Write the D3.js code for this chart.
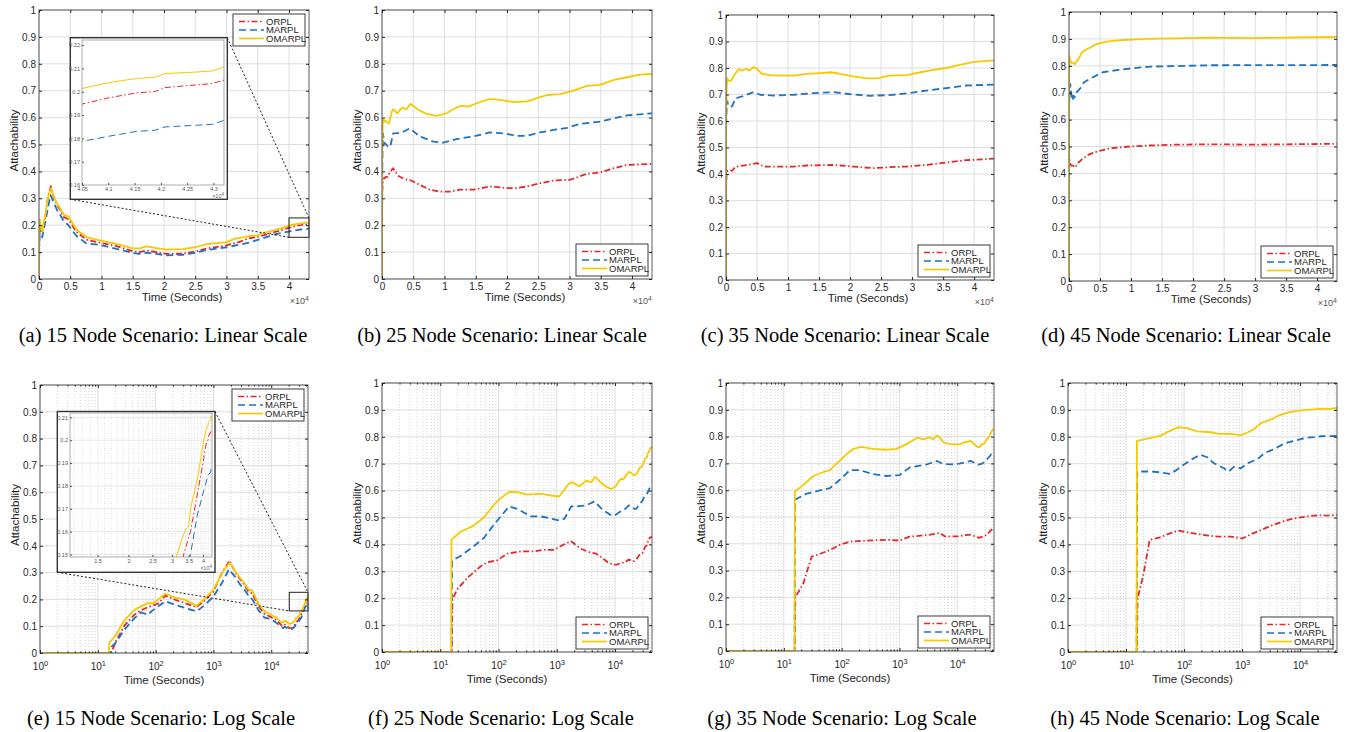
<!DOCTYPE html>
<html><head><meta charset="utf-8">
<script src="https://cdn.jsdelivr.net/npm/d3@7"></script>
<style>body{margin:0;background:#fff;} svg{display:block}</style>
</head><body>
<svg id="chart" width="1353" height="732"></svg>
<script>
// ---------------- DATA ----------------
const seriesNames = ["ORPL", "MARPL", "OMARPL"];
const yTicks = [0,0.1,0.2,0.3,0.4,0.5,0.6,0.7,0.8,0.9,1];
const yTickLabels = ["0","0.1","0.2","0.3","0.4","0.5","0.6","0.7","0.8","0.9","1"];
const linXTicks = [0,5000,10000,15000,20000,25000,30000,35000,40000];
const linXTickLabels = ["0","0.5","1","1.5","2","2.5","3","3.5","4"];
const logXTicks = [1,10,100,1000,10000];
const logXTickExps = ["0","1","2","3","4"];
const timeMax = 43200;

// time [s], attachability
const orpl15 = [[1,0],[16.9,0],[20.6,0.043],[28.8,0.102],[43,0.143],[56,0.159],[73,0.171],[110,0.184],[147,0.214],[215,0.199],[510,0.171],[720,0.199],[1000,0.23],[1400,0.298],[1900,0.345],[2400,0.3],[2900,0.275],[3350,0.258],[4000,0.23],[4700,0.222],[6000,0.175],[7600,0.146],[9730,0.135],[12400,0.122],[15000,0.103],[16100,0.1],[17200,0.106],[18800,0.1],[20400,0.093],[23000,0.094],[25200,0.103],[26800,0.113],[30000,0.125],[32100,0.138],[33400,0.15],[35600,0.16],[37900,0.176],[40300,0.192],[40500,0.1947],[41030,0.1975],[41540,0.1995],[41890,0.2001],[42080,0.2018],[42970,0.2035],[43200,0.205]];
const marpl15 = [[1,0],[16.9,0],[17.5,0.025],[20.6,0.04],[28.8,0.087],[43,0.13],[56,0.152],[73,0.143],[90,0.16],[147,0.193],[215,0.18],[510,0.155],[720,0.18],[1000,0.211],[1400,0.261],[1850,0.312],[2400,0.283],[2900,0.255],[3350,0.24],[4000,0.215],[4700,0.2],[6000,0.16],[7600,0.132],[9730,0.127],[12400,0.112],[15000,0.097],[16100,0.093],[17200,0.098],[18800,0.093],[20400,0.088],[23000,0.09],[25200,0.098],[26800,0.108],[30000,0.118],[32100,0.128],[33700,0.136],[35600,0.15],[37900,0.167],[40300,0.178],[40500,0.1787],[41030,0.181],[41540,0.183],[41890,0.1835],[42080,0.1849],[42970,0.186],[43200,0.1877]];
const omarpl15 = [[1,0],[15.5,0],[15.8,0.037],[20.6,0.068],[28.8,0.122],[43,0.161],[56,0.174],[73,0.186],[90,0.186],[110,0.199],[147,0.221],[215,0.207],[320,0.199],[510,0.176],[720,0.205],[1000,0.236],[1400,0.298],[1900,0.337],[2400,0.304],[2900,0.28],[3350,0.264],[4000,0.238],[4700,0.233],[6000,0.183],[7600,0.156],[9730,0.144],[12400,0.131],[15000,0.114],[16100,0.114],[17200,0.121],[18800,0.115],[20400,0.109],[23000,0.111],[25200,0.119],[26800,0.13],[30000,0.137],[31400,0.15],[33000,0.157],[34000,0.161],[35000,0.162],[35600,0.17],[37900,0.1826],[40300,0.2],[40500,0.2014],[41030,0.204],[41540,0.2057],[41890,0.2062],[42080,0.2078],[42620,0.2084],[42970,0.2089],[43200,0.2106]];

const orpl25 = [[1,0],[15.8,0],[16.2,0.195],[19.4,0.232],[29,0.275],[49,0.318],[64,0.333],[96,0.341],[142,0.366],[242,0.374],[410,0.374],[610,0.38],[920,0.38],[1200,0.395],[1760,0.412],[2570,0.384],[3640,0.371],[4700,0.366],[6040,0.35],[7650,0.332],[9250,0.325],[10900,0.325],[12500,0.332],[14600,0.332],[17300,0.344],[19900,0.338],[21500,0.338],[23200,0.344],[25300,0.356],[27400,0.366],[30100,0.369],[32800,0.391],[34900,0.396],[37100,0.412],[39200,0.424],[43200,0.428]];
const marpl25 = [[1,0],[15.6,0],[16,0.341],[22,0.356],[37.6,0.393],[56,0.424],[84,0.474],[109,0.504],[152,0.541],[211,0.532],[360,0.504],[535,0.504],[800,0.496],[1100,0.489],[1350,0.495],[1770,0.541],[2400,0.542],[3200,0.545],[4440,0.56],[6040,0.53],[8200,0.511],[9800,0.507],[11900,0.52],[14600,0.53],[17300,0.545],[19900,0.54],[21500,0.532],[23200,0.532],[25300,0.545],[27400,0.554],[29600,0.562],[31700,0.577],[34900,0.585],[37100,0.597],[39200,0.608],[43200,0.616]];
const omarpl25 = [[1,0],[15.4,0],[15.6,0.418],[22,0.446],[37.6,0.47],[56,0.5],[84,0.548],[109,0.572],[152,0.595],[211,0.594],[316,0.585],[535,0.589],[800,0.581],[1100,0.578],[1560,0.622],[1770,0.631],[2030,0.626],[2470,0.616],[3200,0.637],[3950,0.631],[4500,0.651],[4970,0.644],[5780,0.629],[7100,0.614],[8700,0.606],[10300,0.616],[11700,0.635],[12700,0.644],[13800,0.641],[15700,0.658],[17300,0.67],[18900,0.666],[21000,0.658],[23200,0.66],[25300,0.676],[26400,0.684],[28500,0.687],[30600,0.7],[32800,0.718],[34900,0.722],[37100,0.74],[39200,0.75],[41300,0.76],[43200,0.762]];

const orpl35 = [[1,0],[15.4,0],[15.8,0.2],[21.8,0.253],[30.3,0.352],[42,0.362],[63,0.377],[93,0.396],[139,0.408],[270,0.412],[590,0.415],[1000,0.412],[1490,0.427],[1770,0.428],[3380,0.434],[4980,0.441],[6060,0.428],[10900,0.428],[13000,0.432],[17300,0.434],[20500,0.428],[23700,0.422],[26400,0.426],[29100,0.428],[32300,0.434],[35500,0.443],[38700,0.452],[43200,0.458]];
const marpl35 = [[1,0],[15.4,0],[15.6,0.565],[24.8,0.587],[42,0.599],[63,0.608],[93,0.639],[139,0.675],[206,0.675],[350,0.66],[590,0.653],[1000,0.656],[1500,0.685],[2840,0.695],[4450,0.709],[5520,0.699],[7660,0.696],[10900,0.699],[14100,0.705],[17300,0.709],[20500,0.7],[23200,0.695],[26400,0.698],[29100,0.704],[32300,0.715],[35500,0.724],[38700,0.734],[43200,0.737]];
const omarpl35 = [[1,0],[15.3,0],[15.5,0.595],[21.8,0.62],[32.5,0.653],[48.5,0.668],[63,0.675],[93,0.71],[122,0.735],[159,0.754],[220,0.762],[350,0.754],[590,0.751],[890,0.754],[1320,0.772],[2040,0.796],[2570,0.79],[3270,0.797],[3800,0.79],[4450,0.804],[4980,0.797],[5790,0.778],[7130,0.773],[8740,0.771],[10900,0.771],[13000,0.778],[15200,0.781],[17000,0.784],[18400,0.778],[20500,0.768],[22700,0.761],[24300,0.761],[26400,0.771],[29100,0.773],[31200,0.783],[33400,0.793],[35500,0.8],[37700,0.812],[39800,0.822],[43200,0.829]];

const orpl45 = [[1,0],[15.4,0],[15.8,0.199],[19.6,0.28],[25.6,0.417],[38.4,0.426],[57,0.441],[80,0.451],[128,0.443],[218,0.435],[372,0.429],[640,0.429],[1010,0.422],[1420,0.438],[2120,0.453],[3170,0.47],[4460,0.481],[6620,0.493],[9310,0.499],[13100,0.504],[17400,0.507],[22800,0.508],[30000,0.507],[43200,0.51]];
const marpl45 = [[1,0],[15.2,0],[15.6,0.671],[25.6,0.671],[38.4,0.668],[57,0.662],[75,0.677],[98,0.696],[146,0.72],[190,0.733],[250,0.724],[325,0.702],[485,0.683],[590,0.671],[725,0.689],[950,0.683],[1240,0.702],[1850,0.717],[2420,0.739],[3630,0.755],[5430,0.776],[7690,0.784],[9840,0.79],[13100,0.797],[17400,0.799],[22800,0.802],[43200,0.803]];
const omarpl45 = [[1,0],[15.2,0],[15.4,0.785],[25.6,0.795],[38.4,0.803],[57,0.822],[80,0.836],[112,0.832],[167,0.82],[285,0.817],[398,0.811],[640,0.811],[950,0.806],[1240,0.816],[1620,0.829],[2120,0.851],[2780,0.861],[3390,0.867],[4160,0.878],[5000,0.884],[6620,0.892],[8770,0.896],[10900,0.898],[14100,0.901],[17400,0.902],[22800,0.905],[30000,0.903],[36700,0.906],[43200,0.907]];

// zoom insets (15 node)
const insetLinXDomain = [40500, 43200];
const insetLinYDomain = [0.16, 0.2222];
const insetLinXTicks = [40500,41000,41500,42000,42500,43000];
const insetLinXTickLabels = ["4.05","4.1","4.15","4.2","4.25","4.3"];
const insetLinYTicks = [0.16,0.17,0.18,0.19,0.2,0.21,0.22];
const insetLinYTickLabels = ["0.16","0.17","0.18","0.19","0.2","0.21","0.22"];
const insetLogXDomain = [11600, 43500];
const insetLogYDomain = [0.1489, 0.2119];
const insetLogXTicks = [15000,20000,25000,30000,35000,40000];
const insetLogXTickLabels = ["1.5","2","2.5","3","3.5","4"];
const insetLogYTicks = [0.15,0.16,0.17,0.18,0.19,0.2,0.21];
const insetLogYTickLabels = ["0.15","0.16","0.17","0.18","0.19","0.2","0.21"];
const zoomRectLin = [40000, 43200, 0.155, 0.227];
const zoomRectLog = [20500, 43200, 0.157, 0.2265];

const captions = ["(a) 15 Node Scenario: Linear Scale","(b) 25 Node Scenario: Linear Scale","(c) 35 Node Scenario: Linear Scale","(d) 45 Node Scenario: Linear Scale","(e) 15 Node Scenario: Log Scale","(f) 25 Node Scenario: Log Scale","(g) 35 Node Scenario: Log Scale","(h) 45 Node Scenario: Log Scale"];

// ---------------- STYLE / LAYOUT ----------------
const scenarios = {
  "15": [orpl15, marpl15, omarpl15],
  "25": [orpl25, marpl25, omarpl25],
  "35": [orpl35, marpl35, omarpl35],
  "45": [orpl45, marpl45, omarpl45]
};
const colors = ["#e8262a", "#1f72c0", "#f7c900"];
const dashes = ["6,2.5,1.5,2.5", "7,4", null];
const SANS = "'Liberation Sans', Arial, Helvetica, sans-serif";
const SERIF = "'Liberation Serif', 'Times New Roman', serif";
const AX = "#262626";

const panels = [
  {sc:"15", type:"lin", box:[39,10,309,279], leg:"tr", cx:163, cy:342, inset:"lin"},
  {sc:"25", type:"lin", box:[382,10,652,279], leg:"br", cx:502, cy:342},
  {sc:"35", type:"lin", box:[726,15,994,280], leg:"br", cx:845, cy:342},
  {sc:"45", type:"lin", box:[1069,12,1337,281], leg:"br", cx:1186, cy:342},
  {sc:"15", type:"log", box:[40,385,308,653], leg:"tr", cx:161, cy:725, inset:"log"},
  {sc:"25", type:"log", box:[382,383,652,652], leg:"br", cx:501, cy:725},
  {sc:"35", type:"log", box:[726,383,994,651], leg:"br", cx:842, cy:725},
  {sc:"45", type:"log", box:[1068,383,1337,652], leg:"br", cx:1185, cy:725}
];

const svg = d3.select("#chart");
svg.append("rect").attr("width",1353).attr("height",732).attr("fill","#fff");
let clipId = 0;

function logMinor(domain) {
  const out = [];
  for (let d = 0; d <= 5; d++) for (let k = 2; k <= 9; k++) {
    const v = k * Math.pow(10, d);
    if (v > domain[0] && v < domain[1]) out.push(v);
  }
  return out;
}

function styleAxis(sel, size) {
  sel.select(".domain").remove();
  sel.attr("font-family", SANS).attr("font-size", size).style("color", AX);
}

function drawLines(g, data, x, y, clip, w) {
  const line = d3.line().x(d => x(d[0])).y(d => y(d[1]));
  data.forEach((s, i) => {
    g.append("path").attr("d", line(s)).attr("fill","none")
      .attr("stroke", colors[i]).attr("stroke-width", w)
      .attr("stroke-dasharray", dashes[i]).attr("stroke-linejoin","round")
      .attr("clip-path", `url(#${clip})`);
  });
}

function makeClip(l,t,r,b) {
  const id = "clip" + (clipId++);
  svg.append("clipPath").attr("id", id).append("rect")
    .attr("x", l).attr("y", t).attr("width", r-l).attr("height", b-t);
  return id;
}

function drawLegend(g, box, pos) {
  const [l,t,r,b] = box, w = 72, h = 32;
  const lx = r - 4 - w, ly = pos === "tr" ? t + 4 : b - 3 - h;
  g.append("rect").attr("x", lx).attr("y", ly).attr("width", w).attr("height", h)
    .attr("fill","#fff").attr("stroke", AX).attr("stroke-width", 0.9);
  seriesNames.forEach((n, i) => {
    const yy = ly + 7.5 + i * 8.5;
    g.append("line").attr("x1", lx+6).attr("x2", lx+31).attr("y1", yy).attr("y2", yy)
      .attr("stroke", colors[i]).attr("stroke-width", 1.7).attr("stroke-dasharray", dashes[i]);
    g.append("text").attr("x", lx+33).attr("y", yy+3.3).text(n)
      .attr("font-family", SANS).attr("font-size", 9.5).attr("fill", AX);
  });
}

function drawPanel(p, idx) {
  const [l,t,r,b] = p.box;
  const g = svg.append("g");
  const x = p.type === "lin" ? d3.scaleLinear().domain([0, timeMax]).range([l, r])
                             : d3.scaleLog().domain([1, timeMax]).range([l, r]);
  const y = d3.scaleLinear().domain([0, 1]).range([b, t]);
  const xt = p.type === "lin" ? linXTicks : logXTicks;

  // grid
  const grid = g.append("g").attr("stroke", "#dedede").attr("stroke-width", 1);
  if (p.type === "log") {
    logMinor([1, timeMax]).forEach(v => grid.append("line")
      .attr("x1", x(v)).attr("x2", x(v)).attr("y1", t).attr("y2", b)
      .attr("stroke", "#c8c8c8").attr("stroke-dasharray", "1,2").attr("stroke-width", 0.8));
  }
  yTicks.forEach(v => grid.append("line").attr("x1", l).attr("x2", r).attr("y1", y(v)).attr("y2", y(v)));
  xt.forEach(v => grid.append("line").attr("x1", x(v)).attr("x2", x(v)).attr("y1", t).attr("y2", b));

  const clip = makeClip(l, t, r, b);
  drawLines(g, scenarios[p.sc], x, y, clip, 1.8);

  // zoom inset
  if (p.inset) drawInset(g, p.inset, x, y, scenarios[p.sc]);

  // box
  g.append("rect").attr("x", l).attr("y", t).attr("width", r-l).attr("height", b-t)
    .attr("fill","none").attr("stroke", "#4a4a4a").attr("stroke-width", 0.9);

  // axes
  const fmtX = p.type === "lin" ? ((d,i) => linXTickLabels[i]) : (() => "");
  const gx = g.append("g").attr("transform", `translate(0,${b})`)
    .call(d3.axisBottom(x).tickValues(xt).tickSizeInner(-3).tickSizeOuter(0)
      .tickPadding(p.type === "lin" ? 3.5 : 9.5).tickFormat(fmtX));
  styleAxis(gx, 10);
  if (p.type === "log") {
    gx.selectAll(".tick text").each(function(d, i) {
      const s = d3.select(this);
      s.append("tspan").text("10");
      s.append("tspan").attr("dy", "-0.5em").attr("font-size", 7.5).text(logXTickExps[i]);
    });
    const mn = g.append("g").attr("transform", `translate(0,${b})`)
      .call(d3.axisBottom(x).tickValues(logMinor([1,timeMax])).tickSizeInner(-1.6).tickSizeOuter(0).tickFormat(""));
    styleAxis(mn, 9);
    const mt = g.append("g").attr("transform", `translate(0,${t})`)
      .call(d3.axisTop(x).tickValues(logMinor([1,timeMax])).tickSizeInner(-1.6).tickSizeOuter(0).tickFormat(""));
    styleAxis(mt, 9);
  }
  const gt = g.append("g").attr("transform", `translate(0,${t})`)
    .call(d3.axisTop(x).tickValues(xt).tickSizeInner(-3).tickSizeOuter(0).tickFormat(""));
  styleAxis(gt, 10);
  const gy = g.append("g").attr("transform", `translate(${l},0)`)
    .call(d3.axisLeft(y).tickValues(yTicks).tickSizeInner(-3).tickSizeOuter(0).tickPadding(3)
      .tickFormat((d,i) => yTickLabels[i]));
  styleAxis(gy, 10);
  const gr = g.append("g").attr("transform", `translate(${r},0)`)
    .call(d3.axisRight(y).tickValues(yTicks).tickSizeInner(-3).tickSizeOuter(0).tickFormat(""));
  styleAxis(gr, 10);

  if (p.type === "lin") {
    const ex = g.append("text").attr("x", r).attr("y", b + 25).attr("text-anchor", "end")
      .attr("font-family", SANS).attr("font-size", 9).attr("fill", "#555");
    ex.append("tspan").text("×10");
    ex.append("tspan").attr("dy", "-0.5em").attr("font-size", 7).text("4");
  }

  // axis labels
  const xOff = p.type === "lin" ? 8 : -10;
  g.append("text").attr("x", (l + r) / 2 + xOff).attr("y", p.type === "lin" ? b + 22 : b + 31)
    .attr("text-anchor", "middle").attr("font-family", SANS).attr("font-size", 11.5)
    .attr("fill", AX).text("Time (Seconds)");
  g.append("text").attr("transform", `translate(${l - 21},${(t + b) / 2 - 4}) rotate(-90)`)
    .attr("text-anchor", "middle").attr("font-family", SANS).attr("font-size", 11.5)
    .attr("fill", AX).text("Attachability");

  drawLegend(g, p.box, p.leg);

  // caption
  svg.append("text").attr("x", p.cx).attr("y", p.cy).attr("text-anchor", "middle")
    .attr("font-family", SERIF).attr("font-size", 20.5).attr("fill", "#000").text(captions[idx]);
}

function drawInset(g, kind, mx, my, data) {
  const isLin = kind === "lin";
  const outer = isLin ? [70.3, 37.7, 227.3, 199.3] : [57.3, 411.5, 215, 572.3];
  const inner = isLin ? [82, 40, 224, 185] : [70, 413, 212, 557];
  const zr = isLin ? zoomRectLin : zoomRectLog;
  const rx0 = mx(zr[0]), rx1 = mx(zr[1]), ry0 = my(zr[3]), ry1 = my(zr[2]);
  g.append("rect").attr("x", rx0).attr("y", ry0).attr("width", rx1 - rx0).attr("height", ry1 - ry0)
    .attr("fill", "none").attr("stroke", "#222").attr("stroke-width", 1);
  g.append("line").attr("x1", outer[2]).attr("y1", outer[1]).attr("x2", rx1).attr("y2", ry0)
    .attr("stroke", "#222").attr("stroke-width", 1).attr("stroke-dasharray", "2,2");
  g.append("line").attr("x1", outer[0]).attr("y1", outer[3]).attr("x2", rx0).attr("y2", ry1)
    .attr("stroke", "#222").attr("stroke-width", 1).attr("stroke-dasharray", "2,2");
  g.append("rect").attr("x", outer[0]).attr("y", outer[1]).attr("width", outer[2]-outer[0])
    .attr("height", outer[3]-outer[1]).attr("fill", "#fff").attr("stroke", "#333").attr("stroke-width", 1.4);

  const [l,t,r,b] = inner;
  const x = isLin ? d3.scaleLinear().domain(insetLinXDomain).range([l, r])
                  : d3.scaleLog().domain(insetLogXDomain).range([l, r]);
  const y = d3.scaleLinear().domain(isLin ? insetLinYDomain : insetLogYDomain).range([b, t]);
  const xt = isLin ? insetLinXTicks : insetLogXTicks;
  const xl = isLin ? insetLinXTickLabels : insetLogXTickLabels;
  const yt = isLin ? insetLinYTicks : insetLogYTicks;
  const yl = isLin ? insetLinYTickLabels : insetLogYTickLabels;

  if (!isLin) {
    const gg = g.append("g");
    d3.range(12000, 43500, 1000).forEach(v => gg.append("line").attr("x1", x(v)).attr("x2", x(v))
      .attr("y1", t).attr("y2", b).attr("stroke", "#d0d0d0").attr("stroke-width", 0.7).attr("stroke-dasharray", "1,1.5"));
    yt.forEach(v => gg.append("line").attr("x1", l).attr("x2", r).attr("y1", y(v)).attr("y2", y(v))
      .attr("stroke", "#e2e2e2").attr("stroke-width", 0.8));
  }
  const clip = makeClip(l, t, r, b);
  drawLines(g, data, x, y, clip, 1);
  g.append("rect").attr("x", l).attr("y", t).attr("width", r-l).attr("height", b-t)
    .attr("fill", "none").attr("stroke", "#8a8a8a").attr("stroke-width", 0.7);

  const ax = g.append("g").attr("transform", `translate(0,${b})`)
    .call(d3.axisBottom(x).tickValues(xt).tickSizeInner(-2).tickSizeOuter(0).tickPadding(2)
      .tickFormat((d,i) => xl[i]));
  styleAxis(ax, 5.5);
  ax.style("color", "#555");
  const ay = g.append("g").attr("transform", `translate(${l},0)`)
    .call(d3.axisLeft(y).tickValues(yt).tickSizeInner(-2).tickSizeOuter(0).tickPadding(2)
      .tickFormat((d,i) => yl[i]));
  styleAxis(ay, 5.5);
  ay.style("color", "#555");
  const ex = g.append("text").attr("x", r).attr("y", b + 13).attr("text-anchor", "end")
    .attr("font-family", SANS).attr("font-size", 5.5).attr("fill", "#666");
  ex.append("tspan").text("×10");
  ex.append("tspan").attr("dy", "-0.5em").attr("font-size", 4.5).text("4");
}

panels.forEach(drawPanel);
</script>
</body></html>
